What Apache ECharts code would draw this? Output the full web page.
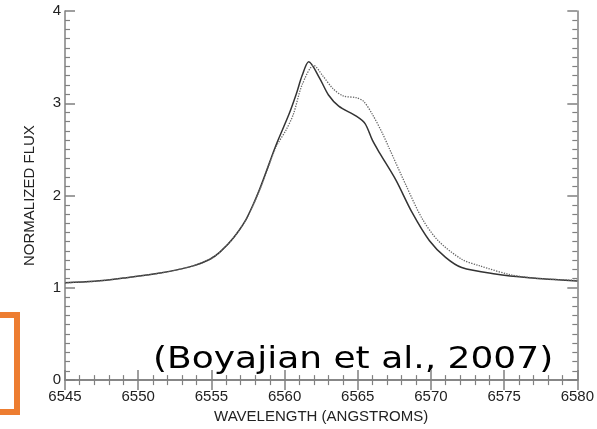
<!DOCTYPE html>
<html>
<head>
<meta charset="utf-8">
<script src="https://cdn.jsdelivr.net/npm/echarts@6/dist/echarts.min.js"></script>
<style>
  html, body { margin: 0; padding: 0; background: #fff; }
  #chart { width: 597px; height: 429px; }
</style>
</head>
<body>
<div id="chart"></div>
<script>
// wavelength (angstrom) / normalized flux
const solidWave = [6545, 6547, 6549.2, 6551.5, 6553.7, 6554.9, 6555.6, 6556.5, 6557.4, 6558.3, 6559.4, 6560.3, 6560.8, 6561.2, 6561.65, 6562.4, 6563.0, 6563.7, 6564.9, 6565.5, 6566.0, 6566.5, 6567.6, 6568.7, 6569.9, 6571.0, 6572.1, 6574.4, 6576.7, 6580]
const solidFlux = [1.055, 1.07, 1.11, 1.16, 1.235, 1.31, 1.39, 1.54, 1.75, 2.07, 2.54, 2.88, 3.10, 3.30, 3.45, 3.27, 3.09, 2.97, 2.86, 2.78, 2.60, 2.46, 2.17, 1.82, 1.51, 1.33, 1.22, 1.15, 1.11, 1.075]

const dottedWave = [6545, 6547, 6549.2, 6551.5, 6553.7, 6554.9, 6555.6, 6556.5, 6557.4, 6558.3, 6559.4, 6560.1, 6560.6, 6561.2, 6562.0, 6562.6, 6563.3, 6564.0, 6564.9, 6565.4, 6566.0, 6566.7, 6567.1, 6568.3, 6569.4, 6570.5, 6572.1, 6573.3, 6575.5, 6577.5, 6580]
const dottedFlux = [1.055, 1.07, 1.11, 1.16, 1.235, 1.31, 1.39, 1.54, 1.75, 2.06, 2.52, 2.71, 2.88, 3.20, 3.41, 3.30, 3.16, 3.08, 3.06, 3.02, 2.88, 2.67, 2.53, 2.11, 1.75, 1.51, 1.31, 1.24, 1.14, 1.10, 1.08]

const axisColor = '#808080'
const labelFont = 'Liberation Sans'

const chart = echarts.init(document.getElementById('chart'))

// the plot has ticks on all four sides, so top/right axes are mirrors without labels
const frameAxis = (extra) => Object.assign({
  type: 'value',
  axisLine: { show: true, lineStyle: { color: axisColor, width: 1.5 } },
  axisTick: { show: true, inside: true, length: 10, lineStyle: { color: axisColor, width: 1.5 } },
  minorTick: { show: true, length: 5, lineStyle: { color: axisColor, width: 1.2 } },
  splitLine: { show: false },
  axisLabel: { show: false }
}, extra)

chart.setOption({
  animation: false,
  backgroundColor: '#fff',
  grid: { left: 65, right: 18, top: 11, bottom: 40, containLabel: false },
  xAxis: [
    frameAxis({
      position: 'bottom', min: 6545, max: 6580, interval: 5,
      minorTick: { show: true, splitNumber: 5, length: 5, lineStyle: { color: axisColor, width: 1.2 } },
      axisLabel: { show: true, margin: 9, color: '#222', fontSize: 15, fontFamily: labelFont, formatter: (v) => String(v) },
      name: 'WAVELENGTH (ANGSTROMS)', nameLocation: 'middle', nameGap: 27,
      nameTextStyle: { color: '#222', fontSize: 15, fontFamily: labelFont }
    }),
    frameAxis({
      position: 'top', min: 6545, max: 6580, interval: 5,
      minorTick: { show: true, splitNumber: 5, length: 5, lineStyle: { color: axisColor, width: 1.2 } }
    })
  ],
  yAxis: [
    frameAxis({
      position: 'left', min: 0, max: 4, interval: 1,
      minorTick: { show: true, splitNumber: 10, length: 5, lineStyle: { color: axisColor, width: 1.2 } },
      axisLabel: { show: true, margin: 4, color: '#222', fontSize: 15, fontFamily: labelFont },
      name: 'NORMALIZED FLUX', nameLocation: 'middle', nameGap: 28,
      nameTextStyle: { color: '#222', fontSize: 15, fontFamily: labelFont }
    }),
    frameAxis({
      position: 'right', min: 0, max: 4, interval: 1,
      minorTick: { show: true, splitNumber: 10, length: 5, lineStyle: { color: axisColor, width: 1.2 } }
    })
  ],
  series: [
    {
      type: 'line',
      xAxisIndex: 0, yAxisIndex: 0,
      data: solidWave.map((w, i) => [w, solidFlux[i]]),
      showSymbol: false,
      smooth: 0.3,
      lineStyle: { color: '#333', width: 1.5 }
    },
    {
      type: 'line',
      xAxisIndex: 0, yAxisIndex: 0,
      data: dottedWave.map((w, i) => [w, dottedFlux[i]]),
      showSymbol: false,
      smooth: 0.3,
      lineStyle: { color: '#666', width: 1.3, type: 'dotted' }
    }
  ],
  graphic: [
    {
      type: 'rect',
      shape: { x: -10, y: 315, width: 27, height: 97 },
      style: { fill: 'none', stroke: '#ED7D31', lineWidth: 6 }
    },
    {
      type: 'text',
      left: 153, top: 345,
      scaleX: 1.2,
      style: {
        text: '(Boyajian et al., 2007)',
        fill: '#000',
        font: '30px "DejaVu Sans"'
      }
    }
  ]
})
</script>
</body>
</html>
